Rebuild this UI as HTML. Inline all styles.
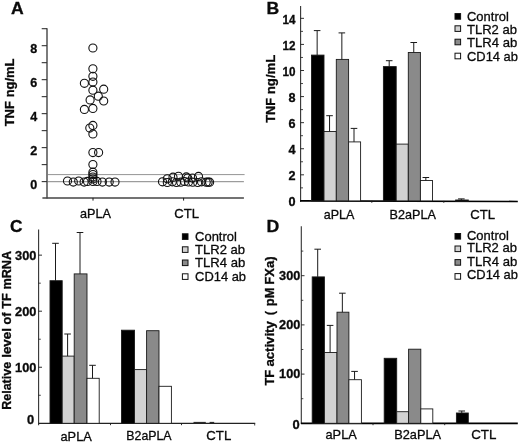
<!DOCTYPE html>
<html><head><meta charset="utf-8"><title>Figure</title>
<style>
html,body{margin:0;padding:0;background:#fff;}
body{width:520px;height:443px;overflow:hidden;font-family:"Liberation Sans",sans-serif;}
svg{display:block;font-family:"Liberation Sans",sans-serif;}
</style></head><body>
<svg width="520" height="443" viewBox="0 0 520 443" style="filter:blur(0.35px)">
<rect width="520" height="443" fill="#fff"/>

<g id="panelA">
<text x="10.90" y="14.10" font-size="17" text-anchor="start" fill="#0a0a0a" stroke="#0a0a0a" stroke-width="0.3" font-weight="bold" textLength="12.70" lengthAdjust="spacingAndGlyphs">A</text>
<line x1="47.00" y1="28.19" x2="47.00" y2="198.50" stroke="#444" stroke-width="1.4"/>
<line x1="42.40" y1="198.00" x2="243.90" y2="198.00" stroke="#444" stroke-width="1.3"/>
<line x1="41.70" y1="181.60" x2="47.00" y2="181.60" stroke="#333" stroke-width="1.1"/>
<line x1="41.70" y1="164.61" x2="47.00" y2="164.61" stroke="#333" stroke-width="1.1"/>
<line x1="41.70" y1="147.62" x2="47.00" y2="147.62" stroke="#333" stroke-width="1.1"/>
<line x1="41.70" y1="130.63" x2="47.00" y2="130.63" stroke="#333" stroke-width="1.1"/>
<line x1="41.70" y1="113.64" x2="47.00" y2="113.64" stroke="#333" stroke-width="1.1"/>
<line x1="41.70" y1="96.65" x2="47.00" y2="96.65" stroke="#333" stroke-width="1.1"/>
<line x1="41.70" y1="79.66" x2="47.00" y2="79.66" stroke="#333" stroke-width="1.1"/>
<line x1="41.70" y1="62.67" x2="47.00" y2="62.67" stroke="#333" stroke-width="1.1"/>
<line x1="41.70" y1="45.68" x2="47.00" y2="45.68" stroke="#333" stroke-width="1.1"/>
<line x1="41.70" y1="28.69" x2="47.00" y2="28.69" stroke="#333" stroke-width="1.1"/>
<text x="37.20" y="188.50" font-size="12.3" text-anchor="end" fill="#0a0a0a" stroke="#0a0a0a" stroke-width="0.3" font-weight="bold" textLength="7.00" lengthAdjust="spacingAndGlyphs">0</text>
<text x="37.20" y="154.52" font-size="12.3" text-anchor="end" fill="#0a0a0a" stroke="#0a0a0a" stroke-width="0.3" font-weight="bold" textLength="7.00" lengthAdjust="spacingAndGlyphs">2</text>
<text x="37.20" y="120.54" font-size="12.3" text-anchor="end" fill="#0a0a0a" stroke="#0a0a0a" stroke-width="0.3" font-weight="bold" textLength="7.00" lengthAdjust="spacingAndGlyphs">4</text>
<text x="37.20" y="86.56" font-size="12.3" text-anchor="end" fill="#0a0a0a" stroke="#0a0a0a" stroke-width="0.3" font-weight="bold" textLength="7.00" lengthAdjust="spacingAndGlyphs">6</text>
<text x="37.20" y="52.58" font-size="12.3" text-anchor="end" fill="#0a0a0a" stroke="#0a0a0a" stroke-width="0.3" font-weight="bold" textLength="7.00" lengthAdjust="spacingAndGlyphs">8</text>
<line x1="47.00" y1="174.60" x2="244.60" y2="174.60" stroke="#777" stroke-width="0.8"/>
<line x1="47.00" y1="181.70" x2="243.90" y2="181.70" stroke="#666" stroke-width="0.8"/>
<line x1="93.00" y1="197.90" x2="93.00" y2="200.60" stroke="#1a1a1a" stroke-width="1.0"/>
<line x1="183.60" y1="197.90" x2="183.60" y2="200.60" stroke="#1a1a1a" stroke-width="1.0"/>
<text x="80.00" y="217.90" font-size="12.6" text-anchor="start" fill="#0a0a0a" stroke="#0a0a0a" stroke-width="0.3" textLength="31.00" lengthAdjust="spacingAndGlyphs">aPLA</text>
<text x="186.70" y="218.00" font-size="12.6" text-anchor="middle" fill="#0a0a0a" stroke="#0a0a0a" stroke-width="0.3" textLength="24.70" lengthAdjust="spacingAndGlyphs">CTL</text>
<text x="13.70" y="126.30" font-size="12.3" text-anchor="start" fill="#0a0a0a" stroke="#0a0a0a" stroke-width="0.3" font-weight="bold" textLength="25.20" lengthAdjust="spacingAndGlyphs" transform="rotate(-90 13.70 126.30)">TNF</text>
<text x="13.70" y="97.30" font-size="12.3" text-anchor="start" fill="#0a0a0a" stroke="#0a0a0a" stroke-width="0.3" font-weight="bold" textLength="38.80" lengthAdjust="spacingAndGlyphs" transform="rotate(-90 13.70 97.30)">ng/mL</text>
<circle cx="92.90" cy="48.00" r="4.05" fill="none" stroke="#111" stroke-width="1.1"/>
<circle cx="92.90" cy="68.80" r="4.05" fill="none" stroke="#111" stroke-width="1.1"/>
<circle cx="92.90" cy="76.30" r="4.05" fill="none" stroke="#111" stroke-width="1.1"/>
<circle cx="92.90" cy="82.10" r="4.05" fill="none" stroke="#111" stroke-width="1.1"/>
<circle cx="84.40" cy="83.30" r="4.05" fill="none" stroke="#111" stroke-width="1.1"/>
<circle cx="92.90" cy="90.20" r="4.05" fill="none" stroke="#111" stroke-width="1.1"/>
<circle cx="103.70" cy="89.20" r="4.05" fill="none" stroke="#111" stroke-width="1.1"/>
<circle cx="98.30" cy="96.20" r="4.05" fill="none" stroke="#111" stroke-width="1.1"/>
<circle cx="90.10" cy="99.90" r="4.05" fill="none" stroke="#111" stroke-width="1.1"/>
<circle cx="103.70" cy="101.00" r="4.05" fill="none" stroke="#111" stroke-width="1.1"/>
<circle cx="84.40" cy="109.40" r="4.05" fill="none" stroke="#111" stroke-width="1.1"/>
<circle cx="92.90" cy="108.40" r="4.05" fill="none" stroke="#111" stroke-width="1.1"/>
<circle cx="92.90" cy="125.40" r="4.05" fill="none" stroke="#111" stroke-width="1.1"/>
<circle cx="89.80" cy="128.10" r="4.05" fill="none" stroke="#111" stroke-width="1.1"/>
<circle cx="92.90" cy="133.90" r="4.05" fill="none" stroke="#111" stroke-width="1.1"/>
<circle cx="92.90" cy="152.60" r="4.05" fill="none" stroke="#111" stroke-width="1.1"/>
<circle cx="98.60" cy="152.60" r="4.05" fill="none" stroke="#111" stroke-width="1.1"/>
<circle cx="92.90" cy="164.50" r="4.05" fill="none" stroke="#111" stroke-width="1.1"/>
<circle cx="92.90" cy="172.20" r="4.05" fill="none" stroke="#111" stroke-width="1.1"/>
<circle cx="92.90" cy="174.50" r="4.05" fill="none" stroke="#111" stroke-width="1.1"/>
<circle cx="92.90" cy="177.00" r="4.05" fill="none" stroke="#111" stroke-width="1.1"/>
<circle cx="92.90" cy="179.00" r="4.05" fill="none" stroke="#111" stroke-width="1.1"/>
<circle cx="67.50" cy="181.00" r="4.05" fill="none" stroke="#111" stroke-width="1.1"/>
<circle cx="73.30" cy="182.10" r="4.05" fill="none" stroke="#111" stroke-width="1.1"/>
<circle cx="78.70" cy="181.00" r="4.05" fill="none" stroke="#111" stroke-width="1.1"/>
<circle cx="84.10" cy="182.10" r="4.05" fill="none" stroke="#111" stroke-width="1.1"/>
<circle cx="87.50" cy="181.40" r="4.05" fill="none" stroke="#111" stroke-width="1.1"/>
<circle cx="92.90" cy="181.40" r="4.05" fill="none" stroke="#111" stroke-width="1.1"/>
<circle cx="97.00" cy="181.40" r="4.05" fill="none" stroke="#111" stroke-width="1.1"/>
<circle cx="102.40" cy="182.10" r="4.05" fill="none" stroke="#111" stroke-width="1.1"/>
<circle cx="109.20" cy="182.10" r="4.05" fill="none" stroke="#111" stroke-width="1.1"/>
<circle cx="115.00" cy="182.10" r="4.05" fill="none" stroke="#111" stroke-width="1.1"/>
<circle cx="162.50" cy="181.80" r="4.05" fill="none" stroke="#111" stroke-width="1.1"/>
<circle cx="167.30" cy="182.50" r="4.05" fill="none" stroke="#111" stroke-width="1.1"/>
<circle cx="172.30" cy="181.80" r="4.05" fill="none" stroke="#111" stroke-width="1.1"/>
<circle cx="176.50" cy="182.50" r="4.05" fill="none" stroke="#111" stroke-width="1.1"/>
<circle cx="180.80" cy="182.20" r="4.05" fill="none" stroke="#111" stroke-width="1.1"/>
<circle cx="184.60" cy="181.50" r="4.05" fill="none" stroke="#111" stroke-width="1.1"/>
<circle cx="188.50" cy="182.00" r="4.05" fill="none" stroke="#111" stroke-width="1.1"/>
<circle cx="192.70" cy="182.20" r="4.05" fill="none" stroke="#111" stroke-width="1.1"/>
<circle cx="197.70" cy="182.50" r="4.05" fill="none" stroke="#111" stroke-width="1.1"/>
<circle cx="201.50" cy="181.80" r="4.05" fill="none" stroke="#111" stroke-width="1.1"/>
<circle cx="206.20" cy="182.20" r="4.05" fill="none" stroke="#111" stroke-width="1.1"/>
<circle cx="208.10" cy="182.20" r="4.05" fill="none" stroke="#111" stroke-width="1.1"/>
<circle cx="209.60" cy="182.20" r="4.05" fill="none" stroke="#111" stroke-width="1.1"/>
<circle cx="167.30" cy="178.80" r="4.05" fill="none" stroke="#111" stroke-width="1.1"/>
<circle cx="173.00" cy="177.20" r="4.05" fill="none" stroke="#111" stroke-width="1.1"/>
<circle cx="178.50" cy="176.30" r="4.05" fill="none" stroke="#111" stroke-width="1.1"/>
<circle cx="187.70" cy="178.00" r="4.05" fill="none" stroke="#111" stroke-width="1.1"/>
<circle cx="192.50" cy="178.10" r="4.05" fill="none" stroke="#111" stroke-width="1.1"/>
<circle cx="198.50" cy="176.40" r="4.05" fill="none" stroke="#111" stroke-width="1.1"/>
<circle cx="186.30" cy="176.90" r="4.05" fill="none" stroke="#111" stroke-width="1.1"/>
</g>
<g id="panelB">
<text x="266.50" y="13.90" font-size="16.9" text-anchor="start" fill="#0a0a0a" stroke="#0a0a0a" stroke-width="0.3" font-weight="bold" textLength="12.70" lengthAdjust="spacingAndGlyphs">B</text>
<line x1="300.60" y1="5.90" x2="300.60" y2="201.70" stroke="#333" stroke-width="1.1"/>
<line x1="300.10" y1="200.90" x2="517.80" y2="201.50" stroke="#000" stroke-width="1.7"/>
<line x1="300.60" y1="187.86" x2="303.00" y2="187.86" stroke="#1a1a1a" stroke-width="0.8"/>
<line x1="300.60" y1="174.82" x2="304.00" y2="174.82" stroke="#1a1a1a" stroke-width="0.9"/>
<line x1="300.60" y1="161.78" x2="303.00" y2="161.78" stroke="#1a1a1a" stroke-width="0.8"/>
<line x1="300.60" y1="148.74" x2="304.00" y2="148.74" stroke="#1a1a1a" stroke-width="0.9"/>
<line x1="300.60" y1="135.70" x2="303.00" y2="135.70" stroke="#1a1a1a" stroke-width="0.8"/>
<line x1="300.60" y1="122.66" x2="304.00" y2="122.66" stroke="#1a1a1a" stroke-width="0.9"/>
<line x1="300.60" y1="109.62" x2="303.00" y2="109.62" stroke="#1a1a1a" stroke-width="0.8"/>
<line x1="300.60" y1="96.58" x2="304.00" y2="96.58" stroke="#1a1a1a" stroke-width="0.9"/>
<line x1="300.60" y1="83.54" x2="303.00" y2="83.54" stroke="#1a1a1a" stroke-width="0.8"/>
<line x1="300.60" y1="70.50" x2="304.00" y2="70.50" stroke="#1a1a1a" stroke-width="0.9"/>
<line x1="300.60" y1="57.46" x2="303.00" y2="57.46" stroke="#1a1a1a" stroke-width="0.8"/>
<line x1="300.60" y1="44.42" x2="304.00" y2="44.42" stroke="#1a1a1a" stroke-width="0.9"/>
<line x1="300.60" y1="31.38" x2="303.00" y2="31.38" stroke="#1a1a1a" stroke-width="0.8"/>
<line x1="300.60" y1="18.34" x2="304.00" y2="18.34" stroke="#1a1a1a" stroke-width="0.9"/>
<text x="295.60" y="206.10" font-size="12" text-anchor="end" fill="#0a0a0a" stroke="#0a0a0a" stroke-width="0.3" font-weight="bold" textLength="7.05" lengthAdjust="spacingAndGlyphs">0</text>
<text x="295.60" y="180.02" font-size="12" text-anchor="end" fill="#0a0a0a" stroke="#0a0a0a" stroke-width="0.3" font-weight="bold" textLength="7.05" lengthAdjust="spacingAndGlyphs">2</text>
<text x="295.60" y="153.94" font-size="12" text-anchor="end" fill="#0a0a0a" stroke="#0a0a0a" stroke-width="0.3" font-weight="bold" textLength="7.05" lengthAdjust="spacingAndGlyphs">4</text>
<text x="295.60" y="127.86" font-size="12" text-anchor="end" fill="#0a0a0a" stroke="#0a0a0a" stroke-width="0.3" font-weight="bold" textLength="7.05" lengthAdjust="spacingAndGlyphs">6</text>
<text x="295.60" y="101.78" font-size="12" text-anchor="end" fill="#0a0a0a" stroke="#0a0a0a" stroke-width="0.3" font-weight="bold" textLength="7.05" lengthAdjust="spacingAndGlyphs">8</text>
<text x="295.60" y="75.70" font-size="12" text-anchor="end" fill="#0a0a0a" stroke="#0a0a0a" stroke-width="0.3" font-weight="bold" textLength="13.00" lengthAdjust="spacingAndGlyphs">10</text>
<text x="295.60" y="49.62" font-size="12" text-anchor="end" fill="#0a0a0a" stroke="#0a0a0a" stroke-width="0.3" font-weight="bold" textLength="13.00" lengthAdjust="spacingAndGlyphs">12</text>
<text x="295.60" y="23.54" font-size="12" text-anchor="end" fill="#0a0a0a" stroke="#0a0a0a" stroke-width="0.3" font-weight="bold" textLength="13.00" lengthAdjust="spacingAndGlyphs">14</text>
<text x="275.10" y="122.70" font-size="12.3" text-anchor="start" fill="#0a0a0a" stroke="#0a0a0a" stroke-width="0.3" font-weight="bold" textLength="24.90" lengthAdjust="spacingAndGlyphs" transform="rotate(-90 275.10 122.70)">TNF</text>
<text x="275.10" y="94.20" font-size="12.3" text-anchor="start" fill="#0a0a0a" stroke="#0a0a0a" stroke-width="0.3" font-weight="bold" textLength="39.60" lengthAdjust="spacingAndGlyphs" transform="rotate(-90 275.10 94.20)">ng/mL</text>
<rect x="311.50" y="55.10" width="12.50" height="145.80" fill="#000" stroke="#1a1a1a" stroke-width="0.9"/>
<line x1="317.15" y1="30.60" x2="317.15" y2="55.10" stroke="#1a1a1a" stroke-width="1.0"/>
<line x1="313.85" y1="30.60" x2="320.45" y2="30.60" stroke="#1a1a1a" stroke-width="1.0"/>
<rect x="324.00" y="131.50" width="12.30" height="69.40" fill="#d2d2d2" stroke="#1a1a1a" stroke-width="0.9"/>
<line x1="329.55" y1="115.70" x2="329.55" y2="131.50" stroke="#1a1a1a" stroke-width="1.0"/>
<line x1="326.25" y1="115.70" x2="332.85" y2="115.70" stroke="#1a1a1a" stroke-width="1.0"/>
<rect x="336.30" y="59.40" width="12.30" height="141.50" fill="#8a8a8a" stroke="#1a1a1a" stroke-width="0.9"/>
<line x1="341.85" y1="32.90" x2="341.85" y2="59.40" stroke="#1a1a1a" stroke-width="1.0"/>
<line x1="338.55" y1="32.90" x2="345.15" y2="32.90" stroke="#1a1a1a" stroke-width="1.0"/>
<rect x="348.60" y="141.90" width="12.00" height="59.00" fill="#fff" stroke="#1a1a1a" stroke-width="0.9"/>
<line x1="354.00" y1="128.40" x2="354.00" y2="141.90" stroke="#1a1a1a" stroke-width="1.0"/>
<line x1="350.70" y1="128.40" x2="357.30" y2="128.40" stroke="#1a1a1a" stroke-width="1.0"/>
<rect x="383.40" y="66.60" width="12.80" height="134.30" fill="#000" stroke="#1a1a1a" stroke-width="0.9"/>
<line x1="389.20" y1="60.70" x2="389.20" y2="66.60" stroke="#1a1a1a" stroke-width="1.0"/>
<line x1="385.90" y1="60.70" x2="392.50" y2="60.70" stroke="#1a1a1a" stroke-width="1.0"/>
<rect x="396.20" y="144.10" width="12.10" height="56.80" fill="#d2d2d2" stroke="#1a1a1a" stroke-width="0.9"/>
<rect x="408.30" y="52.50" width="12.10" height="148.40" fill="#8a8a8a" stroke="#1a1a1a" stroke-width="0.9"/>
<line x1="413.75" y1="42.50" x2="413.75" y2="52.50" stroke="#1a1a1a" stroke-width="1.0"/>
<line x1="410.45" y1="42.50" x2="417.05" y2="42.50" stroke="#1a1a1a" stroke-width="1.0"/>
<rect x="420.40" y="180.50" width="12.10" height="20.40" fill="#fff" stroke="#1a1a1a" stroke-width="0.9"/>
<line x1="425.85" y1="177.50" x2="425.85" y2="180.50" stroke="#1a1a1a" stroke-width="1.0"/>
<line x1="422.55" y1="177.50" x2="429.15" y2="177.50" stroke="#1a1a1a" stroke-width="1.0"/>
<rect x="455.60" y="200.00" width="12.70" height="1.30" fill="#000" stroke="#1a1a1a" stroke-width="0.9"/>
<line x1="461.35" y1="198.90" x2="461.35" y2="200.00" stroke="#1a1a1a" stroke-width="1.0"/>
<line x1="458.05" y1="198.90" x2="464.65" y2="198.90" stroke="#1a1a1a" stroke-width="1.0"/>
<line x1="371.80" y1="200.90" x2="371.80" y2="202.80" stroke="#1a1a1a" stroke-width="0.9"/>
<line x1="443.80" y1="200.90" x2="443.80" y2="202.80" stroke="#1a1a1a" stroke-width="0.9"/>
<text x="323.80" y="218.90" font-size="12.6" text-anchor="start" fill="#0a0a0a" stroke="#0a0a0a" stroke-width="0.3" textLength="30.60" lengthAdjust="spacingAndGlyphs">aPLA</text>
<text x="389.60" y="219.20" font-size="12.6" text-anchor="start" fill="#0a0a0a" stroke="#0a0a0a" stroke-width="0.3" textLength="46.40" lengthAdjust="spacingAndGlyphs">B2aPLA</text>
<text x="482.60" y="219.30" font-size="12.6" text-anchor="middle" fill="#0a0a0a" stroke="#0a0a0a" stroke-width="0.3" textLength="24.80" lengthAdjust="spacingAndGlyphs">CTL</text>
<rect x="455.00" y="13.60" width="5.6" height="5.6" fill="#000" stroke="#111" stroke-width="1.0"/>
<text x="467.00" y="21.00" font-size="13" text-anchor="start" fill="#0a0a0a" stroke="#0a0a0a" stroke-width="0.3" textLength="41.80" lengthAdjust="spacingAndGlyphs">Control</text>
<rect x="455.00" y="25.80" width="5.6" height="5.6" fill="#d2d2d2" stroke="#111" stroke-width="1.0"/>
<text x="467.00" y="33.70" font-size="13" text-anchor="start" fill="#0a0a0a" stroke="#0a0a0a" stroke-width="0.3" textLength="49.90" lengthAdjust="spacingAndGlyphs">TLR2 ab</text>
<rect x="455.00" y="39.20" width="5.6" height="5.6" fill="#8a8a8a" stroke="#111" stroke-width="1.0"/>
<text x="467.00" y="47.10" font-size="13" text-anchor="start" fill="#0a0a0a" stroke="#0a0a0a" stroke-width="0.3" textLength="50.20" lengthAdjust="spacingAndGlyphs">TLR4 ab</text>
<rect x="455.00" y="53.20" width="5.6" height="5.6" fill="#fff" stroke="#111" stroke-width="1.0"/>
<text x="467.00" y="60.60" font-size="13" text-anchor="start" fill="#0a0a0a" stroke="#0a0a0a" stroke-width="0.3" textLength="50.90" lengthAdjust="spacingAndGlyphs">CD14 ab</text>
</g>
<g id="panelC">
<text x="10.00" y="231.50" font-size="16.8" text-anchor="start" fill="#0a0a0a" stroke="#0a0a0a" stroke-width="0.3" font-weight="bold" textLength="12.50" lengthAdjust="spacingAndGlyphs">C</text>
<line x1="38.60" y1="229.50" x2="38.60" y2="425.30" stroke="#333" stroke-width="1.1"/>
<line x1="38.60" y1="423.30" x2="255.20" y2="423.30" stroke="#222" stroke-width="1.3"/>
<line x1="254.70" y1="423.30" x2="254.70" y2="425.50" stroke="#333" stroke-width="0.9"/>
<line x1="38.60" y1="395.28" x2="40.80" y2="395.28" stroke="#1a1a1a" stroke-width="0.8"/>
<line x1="38.60" y1="367.25" x2="42.00" y2="367.25" stroke="#1a1a1a" stroke-width="0.9"/>
<line x1="38.60" y1="339.23" x2="40.80" y2="339.23" stroke="#1a1a1a" stroke-width="0.8"/>
<line x1="38.60" y1="311.20" x2="42.00" y2="311.20" stroke="#1a1a1a" stroke-width="0.9"/>
<line x1="38.60" y1="283.18" x2="40.80" y2="283.18" stroke="#1a1a1a" stroke-width="0.8"/>
<line x1="38.60" y1="255.15" x2="42.00" y2="255.15" stroke="#1a1a1a" stroke-width="0.9"/>
<text x="36.50" y="372.25" font-size="12.3" text-anchor="end" fill="#0a0a0a" stroke="#0a0a0a" stroke-width="0.3" font-weight="bold" textLength="21.40" lengthAdjust="spacingAndGlyphs">100</text>
<text x="36.50" y="316.20" font-size="12.3" text-anchor="end" fill="#0a0a0a" stroke="#0a0a0a" stroke-width="0.3" font-weight="bold" textLength="21.40" lengthAdjust="spacingAndGlyphs">200</text>
<text x="36.50" y="260.15" font-size="12.3" text-anchor="end" fill="#0a0a0a" stroke="#0a0a0a" stroke-width="0.3" font-weight="bold" textLength="21.40" lengthAdjust="spacingAndGlyphs">300</text>
<text x="34.30" y="424.30" font-size="12.0" text-anchor="end" fill="#0a0a0a" stroke="#0a0a0a" stroke-width="0.3" font-weight="bold" textLength="7.20" lengthAdjust="spacingAndGlyphs">0</text>
<text x="11.20" y="409.80" font-size="12.5" text-anchor="start" fill="#0a0a0a" stroke="#0a0a0a" stroke-width="0.3" font-weight="bold" textLength="48.00" lengthAdjust="spacingAndGlyphs" transform="rotate(-90 11.20 409.80)">Relative</text>
<text x="11.20" y="357.80" font-size="12.5" text-anchor="start" fill="#0a0a0a" stroke="#0a0a0a" stroke-width="0.3" font-weight="bold" textLength="29.80" lengthAdjust="spacingAndGlyphs" transform="rotate(-90 11.20 357.80)">level</text>
<text x="11.20" y="324.40" font-size="12.5" text-anchor="start" fill="#0a0a0a" stroke="#0a0a0a" stroke-width="0.3" font-weight="bold" textLength="11.90" lengthAdjust="spacingAndGlyphs" transform="rotate(-90 11.20 324.40)">of</text>
<text x="11.20" y="308.80" font-size="12.5" text-anchor="start" fill="#0a0a0a" stroke="#0a0a0a" stroke-width="0.3" font-weight="bold" textLength="15.50" lengthAdjust="spacingAndGlyphs" transform="rotate(-90 11.20 308.80)">TF</text>
<text x="11.20" y="289.60" font-size="12.5" text-anchor="start" fill="#0a0a0a" stroke="#0a0a0a" stroke-width="0.3" font-weight="bold" textLength="38.70" lengthAdjust="spacingAndGlyphs" transform="rotate(-90 11.20 289.60)">mRNA</text>
<rect x="50.00" y="280.70" width="12.20" height="142.60" fill="#000" stroke="#1a1a1a" stroke-width="0.9"/>
<line x1="55.50" y1="243.30" x2="55.50" y2="280.70" stroke="#1a1a1a" stroke-width="1.0"/>
<line x1="52.20" y1="243.30" x2="58.80" y2="243.30" stroke="#1a1a1a" stroke-width="1.0"/>
<rect x="62.20" y="356.10" width="12.00" height="67.20" fill="#d2d2d2" stroke="#1a1a1a" stroke-width="0.9"/>
<line x1="67.60" y1="334.00" x2="67.60" y2="356.10" stroke="#1a1a1a" stroke-width="1.0"/>
<line x1="64.30" y1="334.00" x2="70.90" y2="334.00" stroke="#1a1a1a" stroke-width="1.0"/>
<rect x="74.20" y="273.90" width="12.80" height="149.40" fill="#8a8a8a" stroke="#1a1a1a" stroke-width="0.9"/>
<line x1="80.00" y1="232.50" x2="80.00" y2="273.90" stroke="#1a1a1a" stroke-width="1.0"/>
<line x1="76.70" y1="232.50" x2="83.30" y2="232.50" stroke="#1a1a1a" stroke-width="1.0"/>
<rect x="87.00" y="378.30" width="12.20" height="45.00" fill="#fff" stroke="#1a1a1a" stroke-width="0.9"/>
<line x1="92.50" y1="365.30" x2="92.50" y2="378.30" stroke="#1a1a1a" stroke-width="1.0"/>
<line x1="89.20" y1="365.30" x2="95.80" y2="365.30" stroke="#1a1a1a" stroke-width="1.0"/>
<rect x="121.50" y="330.20" width="13.00" height="93.10" fill="#000" stroke="#1a1a1a" stroke-width="0.9"/>
<rect x="134.50" y="369.60" width="12.10" height="53.70" fill="#d2d2d2" stroke="#1a1a1a" stroke-width="0.9"/>
<rect x="146.60" y="330.70" width="12.40" height="92.60" fill="#8a8a8a" stroke="#1a1a1a" stroke-width="0.9"/>
<rect x="159.00" y="386.30" width="12.40" height="37.00" fill="#fff" stroke="#1a1a1a" stroke-width="0.9"/>
<line x1="193.50" y1="422.40" x2="205.80" y2="422.40" stroke="#1a1a1a" stroke-width="1.0"/>
<line x1="209.60" y1="422.40" x2="214.20" y2="422.40" stroke="#1a1a1a" stroke-width="1.0"/>
<line x1="110.50" y1="423.30" x2="110.50" y2="425.20" stroke="#1a1a1a" stroke-width="0.9"/>
<line x1="181.50" y1="423.30" x2="181.50" y2="425.20" stroke="#1a1a1a" stroke-width="0.9"/>
<text x="60.50" y="440.50" font-size="12.6" text-anchor="start" fill="#0a0a0a" stroke="#0a0a0a" stroke-width="0.3" textLength="31.30" lengthAdjust="spacingAndGlyphs">aPLA</text>
<text x="126.30" y="440.00" font-size="12.6" text-anchor="start" fill="#0a0a0a" stroke="#0a0a0a" stroke-width="0.3" textLength="45.30" lengthAdjust="spacingAndGlyphs">B2aPLA</text>
<text x="218.80" y="440.30" font-size="12.6" text-anchor="middle" fill="#0a0a0a" stroke="#0a0a0a" stroke-width="0.3" textLength="24.90" lengthAdjust="spacingAndGlyphs">CTL</text>
<rect x="182.40" y="233.80" width="5.6" height="5.6" fill="#000" stroke="#111" stroke-width="1.0"/>
<text x="195.10" y="240.60" font-size="13" text-anchor="start" fill="#0a0a0a" stroke="#0a0a0a" stroke-width="0.3" textLength="41.80" lengthAdjust="spacingAndGlyphs">Control</text>
<rect x="182.40" y="246.80" width="5.6" height="5.6" fill="#d2d2d2" stroke="#111" stroke-width="1.0"/>
<text x="195.10" y="253.60" font-size="13" text-anchor="start" fill="#0a0a0a" stroke="#0a0a0a" stroke-width="0.3" textLength="49.90" lengthAdjust="spacingAndGlyphs">TLR2 ab</text>
<rect x="182.40" y="260.00" width="5.6" height="5.6" fill="#8a8a8a" stroke="#111" stroke-width="1.0"/>
<text x="195.10" y="266.50" font-size="13" text-anchor="start" fill="#0a0a0a" stroke="#0a0a0a" stroke-width="0.3" textLength="50.20" lengthAdjust="spacingAndGlyphs">TLR4 ab</text>
<rect x="182.40" y="273.80" width="5.6" height="5.6" fill="#fff" stroke="#111" stroke-width="1.0"/>
<text x="195.10" y="280.50" font-size="13" text-anchor="start" fill="#0a0a0a" stroke="#0a0a0a" stroke-width="0.3" textLength="50.90" lengthAdjust="spacingAndGlyphs">CD14 ab</text>
</g>
<g id="panelD">
<text x="266.60" y="231.60" font-size="16.9" text-anchor="start" fill="#0a0a0a" stroke="#0a0a0a" stroke-width="0.3" font-weight="bold" textLength="12.80" lengthAdjust="spacingAndGlyphs">D</text>
<line x1="301.30" y1="226.30" x2="301.30" y2="424.10" stroke="#333" stroke-width="1.1"/>
<line x1="300.90" y1="423.40" x2="517.80" y2="423.40" stroke="#000" stroke-width="1.8"/>
<line x1="301.30" y1="398.70" x2="303.30" y2="398.70" stroke="#1a1a1a" stroke-width="0.8"/>
<line x1="301.30" y1="374.10" x2="304.50" y2="374.10" stroke="#1a1a1a" stroke-width="0.9"/>
<line x1="301.30" y1="349.50" x2="303.30" y2="349.50" stroke="#1a1a1a" stroke-width="0.8"/>
<line x1="301.30" y1="324.90" x2="304.50" y2="324.90" stroke="#1a1a1a" stroke-width="0.9"/>
<line x1="301.30" y1="300.30" x2="303.30" y2="300.30" stroke="#1a1a1a" stroke-width="0.8"/>
<line x1="301.30" y1="275.70" x2="304.50" y2="275.70" stroke="#1a1a1a" stroke-width="0.9"/>
<line x1="301.30" y1="251.10" x2="303.30" y2="251.10" stroke="#1a1a1a" stroke-width="0.8"/>
<text x="300.30" y="378.10" font-size="12.0" text-anchor="end" fill="#0a0a0a" stroke="#0a0a0a" stroke-width="0.3" font-weight="bold" textLength="21.20" lengthAdjust="spacingAndGlyphs">100</text>
<text x="300.30" y="328.90" font-size="12.0" text-anchor="end" fill="#0a0a0a" stroke="#0a0a0a" stroke-width="0.3" font-weight="bold" textLength="21.20" lengthAdjust="spacingAndGlyphs">200</text>
<text x="300.30" y="279.70" font-size="12.0" text-anchor="end" fill="#0a0a0a" stroke="#0a0a0a" stroke-width="0.3" font-weight="bold" textLength="21.20" lengthAdjust="spacingAndGlyphs">300</text>
<text x="299.80" y="428.90" font-size="12.3" text-anchor="end" fill="#0a0a0a" stroke="#0a0a0a" stroke-width="0.3" font-weight="bold" textLength="7.20" lengthAdjust="spacingAndGlyphs">0</text>
<text x="273.90" y="385.60" font-size="12.8" text-anchor="start" fill="#0a0a0a" stroke="#0a0a0a" stroke-width="0.3" font-weight="bold" textLength="15.90" lengthAdjust="spacingAndGlyphs" transform="rotate(-90 273.90 385.60)">TF</text>
<text x="273.90" y="366.60" font-size="12.8" text-anchor="start" fill="#0a0a0a" stroke="#0a0a0a" stroke-width="0.3" font-weight="bold" textLength="45.40" lengthAdjust="spacingAndGlyphs" transform="rotate(-90 273.90 366.60)">activity</text>
<text x="273.90" y="315.20" font-size="12.8" text-anchor="start" fill="#0a0a0a" stroke="#0a0a0a" stroke-width="0.3" font-weight="bold" transform="rotate(-90 273.90 315.20)">(</text>
<text x="273.90" y="306.20" font-size="12.8" text-anchor="start" fill="#0a0a0a" stroke="#0a0a0a" stroke-width="0.3" font-weight="bold" textLength="18.60" lengthAdjust="spacingAndGlyphs" transform="rotate(-90 273.90 306.20)">pM</text>
<text x="273.90" y="284.70" font-size="12.8" text-anchor="start" fill="#0a0a0a" stroke="#0a0a0a" stroke-width="0.3" font-weight="bold" textLength="28.30" lengthAdjust="spacingAndGlyphs" transform="rotate(-90 273.90 284.70)">FXa)</text>
<rect x="312.20" y="276.90" width="12.20" height="146.40" fill="#000" stroke="#1a1a1a" stroke-width="0.9"/>
<line x1="317.70" y1="249.20" x2="317.70" y2="276.90" stroke="#1a1a1a" stroke-width="1.0"/>
<line x1="314.40" y1="249.20" x2="321.00" y2="249.20" stroke="#1a1a1a" stroke-width="1.0"/>
<rect x="324.40" y="352.50" width="12.60" height="70.80" fill="#d2d2d2" stroke="#1a1a1a" stroke-width="0.9"/>
<line x1="330.10" y1="325.40" x2="330.10" y2="352.50" stroke="#1a1a1a" stroke-width="1.0"/>
<line x1="326.80" y1="325.40" x2="333.40" y2="325.40" stroke="#1a1a1a" stroke-width="1.0"/>
<rect x="337.00" y="312.20" width="11.90" height="111.10" fill="#8a8a8a" stroke="#1a1a1a" stroke-width="0.9"/>
<line x1="342.35" y1="293.20" x2="342.35" y2="312.20" stroke="#1a1a1a" stroke-width="1.0"/>
<line x1="339.05" y1="293.20" x2="345.65" y2="293.20" stroke="#1a1a1a" stroke-width="1.0"/>
<rect x="348.90" y="379.70" width="12.50" height="43.60" fill="#fff" stroke="#1a1a1a" stroke-width="0.9"/>
<line x1="354.55" y1="371.40" x2="354.55" y2="379.70" stroke="#1a1a1a" stroke-width="1.0"/>
<line x1="351.25" y1="371.40" x2="357.85" y2="371.40" stroke="#1a1a1a" stroke-width="1.0"/>
<rect x="384.20" y="358.30" width="12.50" height="65.00" fill="#000" stroke="#1a1a1a" stroke-width="0.9"/>
<rect x="396.70" y="411.70" width="11.90" height="11.60" fill="#d2d2d2" stroke="#1a1a1a" stroke-width="0.9"/>
<rect x="408.60" y="349.20" width="12.20" height="74.10" fill="#8a8a8a" stroke="#1a1a1a" stroke-width="0.9"/>
<rect x="420.80" y="408.90" width="12.00" height="14.40" fill="#fff" stroke="#1a1a1a" stroke-width="0.9"/>
<rect x="456.40" y="413.00" width="11.90" height="10.30" fill="#000" stroke="#1a1a1a" stroke-width="0.9"/>
<line x1="461.75" y1="411.00" x2="461.75" y2="413.00" stroke="#1a1a1a" stroke-width="1.0"/>
<line x1="458.45" y1="411.00" x2="465.05" y2="411.00" stroke="#1a1a1a" stroke-width="1.0"/>
<line x1="373.00" y1="423.30" x2="373.00" y2="425.20" stroke="#1a1a1a" stroke-width="0.9"/>
<line x1="444.70" y1="423.30" x2="444.70" y2="425.20" stroke="#1a1a1a" stroke-width="0.9"/>
<text x="325.50" y="439.10" font-size="12.6" text-anchor="start" fill="#0a0a0a" stroke="#0a0a0a" stroke-width="0.3" textLength="31.30" lengthAdjust="spacingAndGlyphs">aPLA</text>
<text x="394.20" y="439.10" font-size="12.6" text-anchor="start" fill="#0a0a0a" stroke="#0a0a0a" stroke-width="0.3" textLength="46.90" lengthAdjust="spacingAndGlyphs">B2aPLA</text>
<text x="483.80" y="439.30" font-size="12.6" text-anchor="middle" fill="#0a0a0a" stroke="#0a0a0a" stroke-width="0.3" textLength="25.20" lengthAdjust="spacingAndGlyphs">CTL</text>
<rect x="455.00" y="233.50" width="5.6" height="5.6" fill="#000" stroke="#111" stroke-width="1.0"/>
<text x="467.00" y="240.00" font-size="13" text-anchor="start" fill="#0a0a0a" stroke="#0a0a0a" stroke-width="0.3" textLength="41.80" lengthAdjust="spacingAndGlyphs">Control</text>
<rect x="455.00" y="246.00" width="5.6" height="5.6" fill="#d2d2d2" stroke="#111" stroke-width="1.0"/>
<text x="467.00" y="252.40" font-size="13" text-anchor="start" fill="#0a0a0a" stroke="#0a0a0a" stroke-width="0.3" textLength="49.90" lengthAdjust="spacingAndGlyphs">TLR2 ab</text>
<rect x="455.00" y="259.60" width="5.6" height="5.6" fill="#8a8a8a" stroke="#111" stroke-width="1.0"/>
<text x="467.00" y="265.70" font-size="13" text-anchor="start" fill="#0a0a0a" stroke="#0a0a0a" stroke-width="0.3" textLength="50.20" lengthAdjust="spacingAndGlyphs">TLR4 ab</text>
<rect x="455.00" y="273.60" width="5.6" height="5.6" fill="#fff" stroke="#111" stroke-width="1.0"/>
<text x="467.00" y="279.20" font-size="13" text-anchor="start" fill="#0a0a0a" stroke="#0a0a0a" stroke-width="0.3" textLength="50.90" lengthAdjust="spacingAndGlyphs">CD14 ab</text>
</g>
</svg>
</body></html>
